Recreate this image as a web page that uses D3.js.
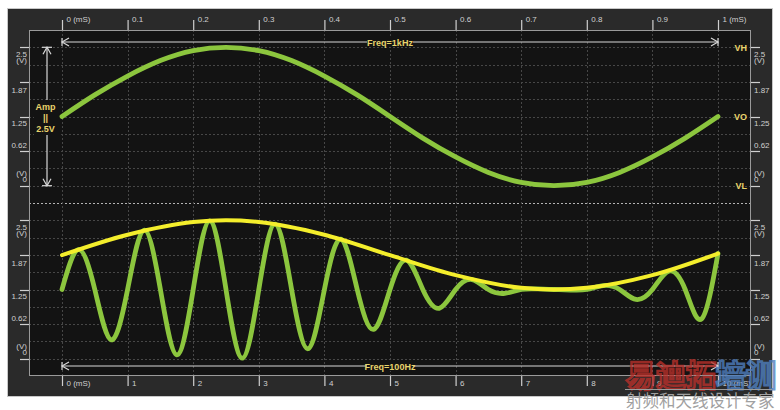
<!DOCTYPE html>
<meta charset="utf-8">
<html>
<head>
  <style>
    body { margin: 0; background: #fff; }
    text { font-family: "Liberation Sans", Arial, sans-serif; }
  </style>
</head>
<body>
  <svg id="scope" width="780" height="410"></svg>

  <script src="https://d3js.org/d3.v7.min.js"></script>
  <script>

    // ---- data ----
    // top trace: 1 kHz signal, time in mS, volts
    var topTime = [0, 0.05, 0.1, 0.15, 0.2, 0.25, 0.3, 0.35, 0.4, 0.45, 0.5,
                   0.55, 0.6, 0.65, 0.7, 0.75, 0.8, 0.85, 0.9, 0.95, 1];
    var topVolts = [1.25, 1.64, 1.98, 2.26, 2.44, 2.5, 2.44, 2.26, 1.98, 1.64, 1.25,
                    0.86, 0.52, 0.24, 0.06, 0, 0.06, 0.24, 0.52, 0.86, 1.25];

    // bottom trace: yellow envelope (100 Hz)
    var envTime = [0, 1, 2, 2.5, 3, 4, 5, 6, 7, 7.5, 8, 9, 10];
    var envVolts = [1.87, 2.24, 2.47, 2.5, 2.47, 2.24, 1.87, 1.51, 1.28, 1.25, 1.28, 1.51, 1.9];

    // bottom trace: green modulated wave
    var waveTime = [0, 0.25, 0.5, 0.75, 1, 1.25, 1.5, 1.75, 2, 2.25, 2.5, 2.75, 3, 3.25,
                    3.5, 3.75, 4, 4.25, 4.5, 4.75, 5, 5.25, 5.5, 5.75, 6, 6.25, 6.5, 6.75,
                    7, 7.25, 7.5, 7.75, 8, 8.25, 8.5, 8.75, 9, 9.25, 9.5, 9.75, 10];
    var waveVolts = [1.25, 1.97, 1.25, 0.34, 1.25, 2.32, 1.25, 0.07, 1.25, 2.49, 1.25, 0.01,
                     1.25, 2.43, 1.25, 0.18, 1.25, 2.16, 1.25, 0.53, 1.25, 1.78, 1.25, 0.91,
                     1.25, 1.43, 1.25, 1.18, 1.25, 1.26, 1.25, 1.24, 1.25, 1.32, 1.25, 1.07,
                     1.25, 1.58, 1.25, 0.72, 1.9];

    // axis ticks
    var topTicks = [0, 0.1, 0.2, 0.3, 0.4, 0.5, 0.6, 0.7, 0.8, 0.9, 1];
    var bottomTicks = [0, 1, 2, 3, 4, 5, 6, 7, 8, 9, 10];
    var voltTicks = [0, 0.625, 1.25, 1.875, 2.5];
    var voltLabels = ["0", "0.62", "1.25", "1.87", "2.5"];
    var levelNames = ["VH", "VO", "VL"];
    var levelVolts = [2.5, 1.25, 0];

    var svg = d3.select("#scope");

    var pLeft = 29, pRight = 751, pTop = 30, pBottom = 376;

    var xTop = d3.scaleLinear().domain([0, 1]).range([62, 718]);
    var xBot = d3.scaleLinear().domain([0, 10]).range([62, 718]);
    var div = d3.scaleLinear().domain([0, 20]).range([pTop, pBottom]);   // 20 grid divisions
    var yTop = d3.scaleLinear().domain([0, 2.5]).range([div(9), div(1)]);
    var yBot = d3.scaleLinear().domain([0, 2.5]).range([div(19), div(11)]);

    var yellowText = "#e9d46c";

    // frame
    svg.append("rect")
      .attr("x", 7.5).attr("y", 8.5).attr("width", 765).attr("height", 388)
      .attr("fill", "#2a2a2a").attr("stroke", "#c8c8c8");
    svg.append("rect")
      .attr("x", pLeft).attr("y", pTop).attr("width", pRight - pLeft).attr("height", pBottom - pTop)
      .attr("fill", "#131313");

    // grid
    var grid = svg.append("g");
    grid.selectAll("line.h")
      .data(d3.range(1, 20))
      .enter().append("line")
      .attr("x1", pLeft).attr("x2", pRight)
      .attr("y1", function (d) { return Math.round(div(d)) + 0.5 })
      .attr("y2", function (d) { return Math.round(div(d)) + 0.5 })
      .attr("stroke", function (d) { return d == 10 ? "#b5b5b5" : "#474747" })
      .style("stroke-dasharray", "2,2");
    grid.selectAll("line.v")
      .data(topTicks)
      .enter().append("line")
      .attr("x1", function (d) { return Math.round(xTop(d)) + 0.5 })
      .attr("x2", function (d) { return Math.round(xTop(d)) + 0.5 })
      .attr("y1", pTop).attr("y2", pBottom)
      .attr("stroke", "#474747")
      .style("stroke-dasharray", "2,2");

    svg.append("rect")
      .attr("x", pLeft + 0.5).attr("y", pTop + 0.5).attr("width", pRight - pLeft - 1).attr("height", pBottom - pTop - 1)
      .attr("fill", "none").attr("stroke", "#9a9a9a");

    // time axes
    function styleAxis(g, dy) {
      g.select(".domain").remove();
      g.selectAll(".tick line").attr("stroke", "#cfcfcf").attr("stroke-width", 1.2);
      g.selectAll(".tick text")
        .attr("fill", "#d0d0d0").style("font-size", "8px")
        .attr("text-anchor", "start").attr("x", 4).attr("dy", dy);
    }
    svg.append("g")
      .attr("transform", "translate(0," + pTop + ")")
      .call(d3.axisTop(xTop).tickValues(topTicks).tickSize(10)
        .tickFormat(function (d) { return (d == 0 || d == 1) ? d + " (mS)" : d }))
      .call(styleAxis, "5px");
    svg.append("g")
      .attr("transform", "translate(0," + pBottom + ")")
      .call(d3.axisBottom(xBot).tickValues(bottomTicks).tickSize(10)
        .tickFormat(function (d) { return (d == 0 || d == 10) ? d + " (mS)" : d }))
      .call(styleAxis, "-3px");

    // volt axes (both sides, both panels)
    var labelShift = { "2.5": 9, "1.87": 10, "1.25": 8, "0.62": -4, "0": -5 };
    function voltAxis(y, side) {
      var g = svg.append("g");
      var xTick = side == "left" ? pLeft - 9 : pRight;
      var xText = side == "left" ? pLeft - 2 : pRight + 3;
      var anchor = side == "left" ? "end" : "start";
      voltTicks.forEach(function (v, i) {
        var yy = Math.round(y(v)) + 0.5;
        g.append("line")
          .attr("x1", xTick).attr("x2", xTick + 9)
          .attr("y1", yy).attr("y2", yy)
          .attr("stroke", "#cfcfcf").attr("stroke-width", 1.2);
        var lab = voltLabels[i];
        var t = g.append("text")
          .attr("text-anchor", anchor).attr("fill", "#d0d0d0")
          .style("font-size", "8px");
        if (lab == "2.5") {
          t.append("tspan").attr("x", xText).attr("y", yy + 9).text("2.5");
          t.append("tspan").attr("x", xText).attr("y", yy + 15).text("(V)");
        } else if (lab == "0") {
          t.append("tspan").attr("x", xText).attr("y", yy - 11).text("(V)");
          t.append("tspan").attr("x", xText).attr("y", yy - 5).text("0");
        } else {
          t.attr("x", xText).attr("y", yy + labelShift[lab]).text(lab);
        }
      });
    }
    voltAxis(yTop, "left");
    voltAxis(yBot, "left");
    voltAxis(yTop, "right");
    voltAxis(yBot, "right");

    // dimension arrows
    function hArrow(y, label) {
      var g = svg.append("g").attr("stroke", "#d8d8d8").attr("stroke-width", 1.2).attr("fill", "none");
      var x0 = xTop(0), x1 = xTop(1);
      g.append("line").attr("x1", x0).attr("x2", x1).attr("y1", y).attr("y2", y);
      g.append("line").attr("x1", x0).attr("x2", x0).attr("y1", y - 4).attr("y2", y + 4);
      g.append("line").attr("x1", x1).attr("x2", x1).attr("y1", y - 4).attr("y2", y + 4);
      g.append("path").attr("d", "M" + (x0 + 7) + "," + (y - 4) + "L" + x0 + "," + y + "L" + (x0 + 7) + "," + (y + 4));
      g.append("path").attr("d", "M" + (x1 - 7) + "," + (y - 4) + "L" + x1 + "," + y + "L" + (x1 - 7) + "," + (y + 4));
      svg.append("rect").attr("x", 367).attr("y", y - 5).attr("width", 46).attr("height", 10).attr("fill", "#131313");
      svg.append("text")
        .attr("x", 390).attr("y", y + 3.5).attr("text-anchor", "middle")
        .attr("fill", yellowText).style("font-size", "9px").style("font-weight", "bold")
        .text(label);
    }
    hArrow(42, "Freq=1kHz");
    hArrow(366, "Freq=100Hz");

    var ax = 47, ay0 = yTop(2.5), ay1 = yTop(0);
    var va = svg.append("g").attr("stroke", "#d8d8d8").attr("stroke-width", 1.2).attr("fill", "none");
    va.append("line").attr("x1", ax).attr("x2", ax).attr("y1", ay0).attr("y2", ay1);
    va.append("line").attr("x1", ax - 5).attr("x2", ax + 5).attr("y1", ay0).attr("y2", ay0);
    va.append("line").attr("x1", ax - 5).attr("x2", ax + 5).attr("y1", ay1).attr("y2", ay1);
    va.append("path").attr("d", "M" + (ax - 4) + "," + (ay0 + 7) + "L" + ax + "," + ay0 + "L" + (ax + 4) + "," + (ay0 + 7));
    va.append("path").attr("d", "M" + (ax - 4) + "," + (ay1 - 7) + "L" + ax + "," + ay1 + "L" + (ax + 4) + "," + (ay1 - 7));
    svg.append("rect").attr("x", 34).attr("y", 100).attr("width", 25).attr("height", 35).attr("fill", "#131313");
    var amp = svg.append("text").attr("text-anchor", "middle").attr("fill", yellowText)
      .style("font-size", "9px").style("font-weight", "bold");
    amp.append("tspan").attr("x", 45.5).attr("y", 110).text("Amp");
    amp.append("tspan").attr("x", 45.5).attr("y", 121).text("||");
    amp.append("tspan").attr("x", 45.5).attr("y", 132).text("2.5V");

    svg.selectAll("text.level")
      .data(levelNames)
      .enter().append("text")
      .attr("x", 747)
      .attr("y", function (d, i) { return yTop(levelVolts[i]) + 3.5 })
      .attr("text-anchor", "end").attr("fill", yellowText)
      .style("font-size", "9px").style("font-weight", "bold")
      .text(function (d) { return d });

    // traces
    var topLine = d3.line()
      .x(function (d, i) { return xTop(topTime[i]) })
      .y(function (d) { return yTop(d) })
      .curve(d3.curveNatural);
    var envLine = d3.line()
      .x(function (d, i) { return xBot(envTime[i]) })
      .y(function (d) { return yBot(d) })
      .curve(d3.curveMonotoneX);
    var waveLine = d3.line()
      .x(function (d, i) { return xBot(waveTime[i]) })
      .y(function (d) { return yBot(d) })
      .curve(d3.curveNatural);

    svg.append("path").datum(topVolts).attr("d", topLine)
      .attr("fill", "none").attr("stroke", "#8cc63e").attr("stroke-width", 4.8).attr("stroke-linecap", "round");
    svg.append("path").datum(waveVolts).attr("d", waveLine)
      .attr("fill", "none").attr("stroke", "#8cc63e").attr("stroke-width", 4.8).attr("stroke-linecap", "round");
    svg.append("path").datum(envVolts).attr("d", envLine)
      .attr("fill", "none").attr("stroke", "#f4ee2c").attr("stroke-width", 4).attr("stroke-linecap", "round");

    // watermark
    var wm = svg.append("g").style("opacity", 0.8);
    wm.append("text").attr("x", 626).attr("y", 386)
      .style("font-family", "Noto Sans CJK SC").style("font-size", "30px").style("font-weight", "bold")
      .attr("fill", "none").attr("stroke", "#b8302a").attr("stroke-width", 2.5)
      .text("易迪拓");
    wm.append("text").attr("x", 716).attr("y", 386)
      .style("font-family", "Noto Sans CJK SC").style("font-size", "30px").style("font-weight", "bold")
      .attr("fill", "none").attr("stroke", "#4f7fbf").attr("stroke-width", 2.5)
      .text("培训");
    svg.append("line").attr("x1", 625).attr("x2", 772).attr("y1", 389.5).attr("y2", 389.5)
      .attr("stroke", "#9a9a9a");
    svg.append("text").attr("x", 626).attr("y", 407)
      .style("font-family", "Noto Sans CJK SC").style("font-size", "16.5px")
      .attr("fill", "#a0a0a0")
      .text("射频和天线设计专家");

  </script>
</body>
</html>
